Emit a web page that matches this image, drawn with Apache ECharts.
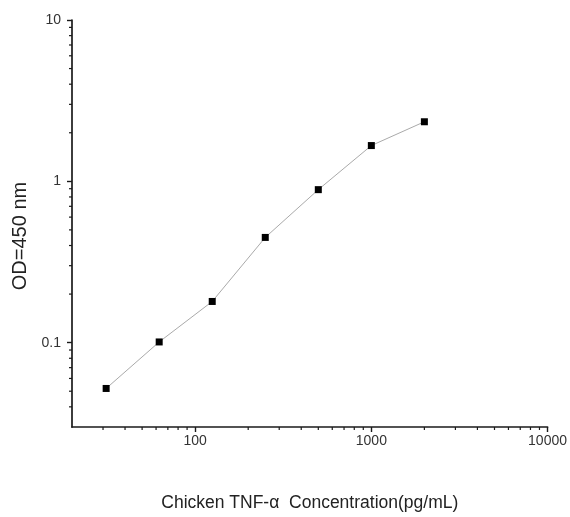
<!DOCTYPE html>
<html>
<head>
<meta charset="utf-8">
<script src="https://cdn.jsdelivr.net/npm/echarts@6/dist/echarts.min.js"></script>
<style>html,body{margin:0;padding:0;background:#fff}#c{width:570px;height:517px}</style>
</head>
<body>
<div id="c"></div>
<script>
const concentration = [31.25, 62.5, 125, 250, 500, 1000, 2000];
const od450 = [0.052, 0.101, 0.180, 0.449, 0.888, 1.666, 2.34];
const xMajorLabels = [100, 1000, 10000];
const yMajorLabels = [0.1, 1, 10];
const xMinorTicks = [30,40,50,60,70,80,90,200,300,400,500,600,700,800,900,2000,3000,4000,5000,6000,7000,8000,9000];
const yMinorTicks = [0.04,0.05,0.06,0.07,0.08,0.09,0.2,0.3,0.4,0.5,0.6,0.7,0.8,0.9,2,3,4,5,6,7,8,9];
const X_MIN = 20, X_MAX = 10000, Y_MIN = 0.03, Y_MAX = 10;

const font = 'Liberation Sans, Arial, sans-serif';
const chart = echarts.init(document.getElementById('c'), null, {renderer: 'canvas'});
const axisCommon = {
  type: 'log', logBase: 10,
  axisLine: {show: true, lineStyle: {color: '#1a1a1a', width: 1.7}},
  axisTick: {show: true, inside: false, length: 5, lineStyle: {color: '#1a1a1a', width: 1.4}},
  splitLine: {show: false},
  minorTick: {show: false},
  minorSplitLine: {show: false}
};
function fmt(list){ return v => { for (const m of list) { if (Math.abs(v - m) / m < 1e-6) return String(m); } return ''; }; }

chart.setOption({
  animation: false,
  backgroundColor: '#fff',
  grid: {left: 72, right: 21, top: 20, bottom: 89, containLabel: false},
  xAxis: Object.assign({}, axisCommon, {
    min: X_MIN, max: X_MAX,
    name: 'Chicken TNF-α  Concentration(pg/mL)',
    nameLocation: 'middle', nameGap: 67,
    nameTextStyle: {fontFamily: font, fontSize: 17.5, color: '#222'},
    axisLabel: {showMinLabel: false, margin: 7, fontFamily: font, fontSize: 14, color: '#333', formatter: fmt(xMajorLabels)}
  }),
  yAxis: Object.assign({}, axisCommon, {
    min: Y_MIN, max: Y_MAX,
    name: 'OD=450 nm',
    nameLocation: 'middle', nameGap: 39,
    nameTextStyle: {fontFamily: font, fontSize: 20, color: '#222', padding: [0, 25, 0, 0]},
    axisLabel: {showMinLabel: false, margin: 11, fontFamily: font, fontSize: 14, color: '#333', formatter: fmt(yMajorLabels)}
  }),
  series: [
    {
      type: 'line',
      data: concentration.map((c, i) => [c, od450[i]]),
      symbol: 'rect', symbolSize: 7,
      itemStyle: {color: '#000'},
      lineStyle: {color: '#aaa', width: 1}
    },
    {
      type: 'custom', silent: true, clip: false,
      data: xMinorTicks.map(v => [v, Y_MIN]),
      renderItem: (params, api) => {
        const p = api.coord([api.value(0), api.value(1)]);
        return {type: 'line', shape: {x1: p[0], y1: p[1], x2: p[0], y2: p[1] + 3}, style: {stroke: '#1a1a1a', lineWidth: 1.2}};
      }
    },
    {
      type: 'custom', silent: true, clip: false,
      data: yMinorTicks.map(v => [X_MIN, v]),
      renderItem: (params, api) => {
        const p = api.coord([api.value(0), api.value(1)]);
        return {type: 'line', shape: {x1: p[0], y1: p[1], x2: p[0] - 3, y2: p[1]}, style: {stroke: '#1a1a1a', lineWidth: 1.2}};
      }
    }
  ]
});
</script>
</body>
</html>
